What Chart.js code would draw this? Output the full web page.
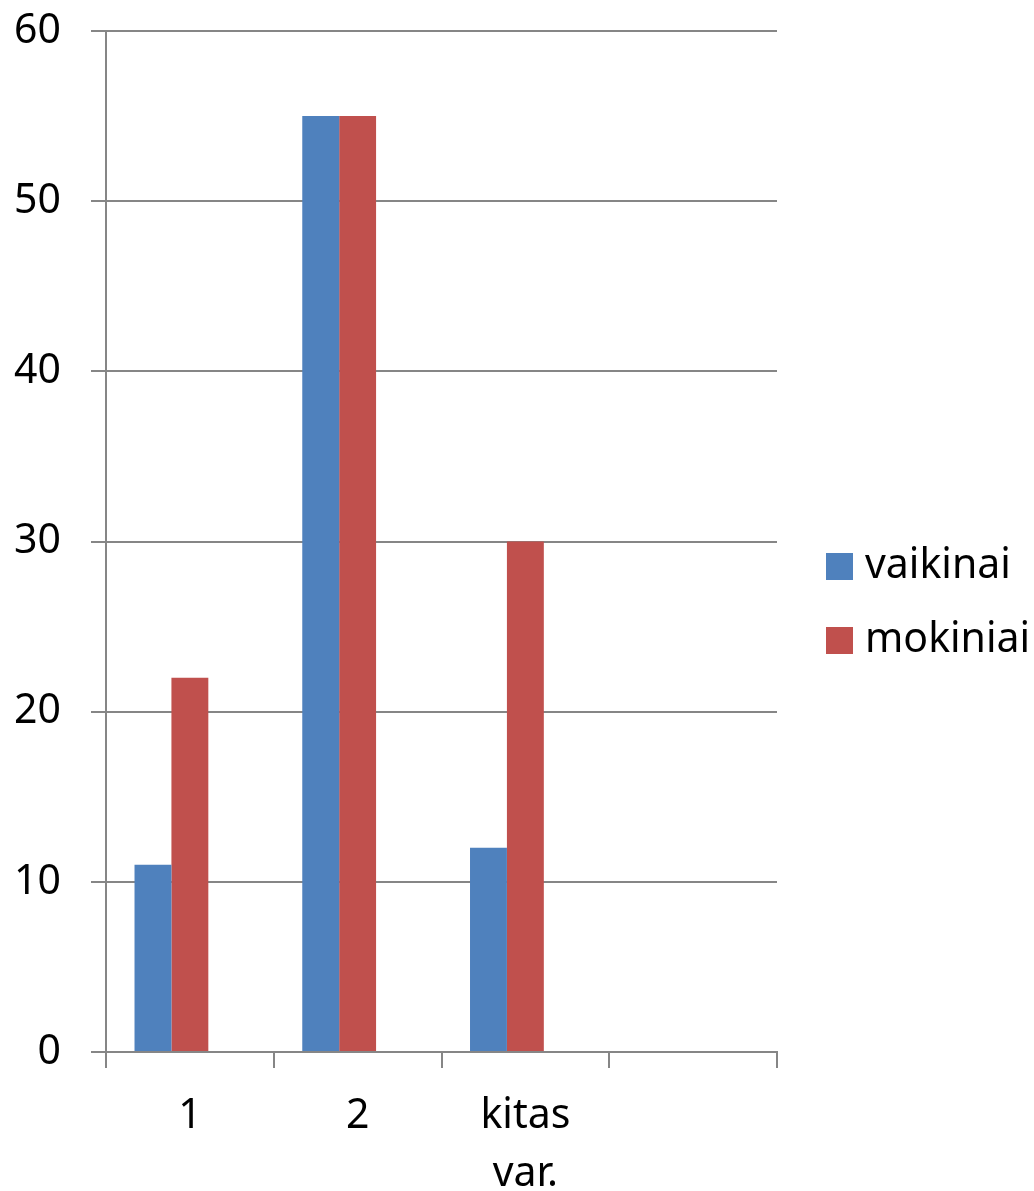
<!DOCTYPE html>
<html>
<head>
<meta charset="utf-8">
<script src="https://cdn.jsdelivr.net/npm/chart.js@4/dist/chart.umd.min.js"></script>
<style>
  html, body { margin: 0; padding: 0; background: #fff; }
  #wrap { width: 1034px; height: 1191px; }
</style>
</head>
<body>
<div id="wrap"><canvas id="chart"></canvas></div>
<script>
// data
const categories = ["1", "2", ["kitas", "var."], ""];
const vaikinai = [11, 55, 12, null];
const mokiniai = [22, 55, 30, null];
const empty = [null, null, null, null]; // third (blank) series, keeps bars left of centre
const yTicks = [0, 10, 20, 30, 40, 50, 60];

const FONT = "'Noto Sans', 'Open Sans', sans-serif";
const GRID = "#868686";

// legend drawn by hand on the right (only the two named series)
const sideLegend = {
  id: "sideLegend",
  afterDraw(chart) {
    const ctx = chart.ctx;
    ctx.save();
    ctx.font = "41px " + FONT;
    ctx.textBaseline = "middle";
    chart.data.datasets.filter(d => d.label).forEach((d, i) => {
      const y = 566 + i * 74;
      ctx.fillStyle = d.backgroundColor;
      ctx.fillRect(826, y - 13, 27, 27);
      ctx.fillStyle = "#000";
      ctx.fillText(d.label, 865, y);
    });
    ctx.restore();
  }
};

new Chart(document.getElementById("chart"), {
  type: "bar",
  data: {
    labels: categories,
    datasets: [
      { label: "vaikinai", data: vaikinai, backgroundColor: "#4f81bd" },
      { label: "mokiniai", data: mokiniai, backgroundColor: "#c0504d" },
      { label: "", data: empty, backgroundColor: "#9bbb59" }
    ]
  },
  options: {
    responsive: true,
    maintainAspectRatio: false,
    animation: false,
    layout: { padding: { top: 31, right: 257, left: 0, bottom: 0 } },
    datasets: { bar: { categoryPercentage: 0.66, barPercentage: 1.0 } },
    plugins: { legend: { display: false }, tooltip: { enabled: false } },
    scales: {
      x: {
        afterFit: s => { s.height = 139; },
        grid: { offset: true, drawOnChartArea: false, drawTicks: true, tickLength: 16, color: GRID, lineWidth: 2 },
        border: { color: GRID, width: 2 },
        ticks: { color: "#000", font: { family: FONT, size: 41, lineHeight: 1.4 }, padding: 20, maxRotation: 0, autoSkip: false }
      },
      y: {
        min: 0, max: 60,
        afterFit: s => { s.width = 106; s.paddingTop = 0; s.paddingBottom = 0; },
        afterBuildTicks: s => { s.ticks = yTicks.map(v => ({ value: v })); },
        grid: { color: GRID, lineWidth: 2, tickLength: 15 },
        border: { color: GRID, width: 2 },
        ticks: { color: "#000", font: { family: FONT, size: 41 }, padding: 30 }
      }
    }
  },
  plugins: [sideLegend]
});
</script>
</body>
</html>
